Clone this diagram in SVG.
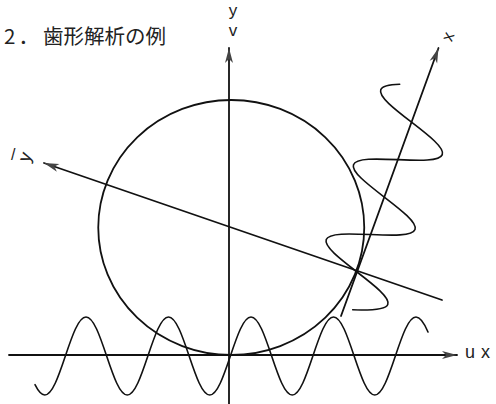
<svg xmlns="http://www.w3.org/2000/svg" width="496" height="404" viewBox="0 0 496 404">
<style>
.ln{fill:none;stroke:#111;stroke-width:1.8;stroke-linecap:round;stroke-linejoin:round}
.wv{fill:none;stroke:#111;stroke-width:1.6;stroke-linecap:round}
.lb{font-family:"Liberation Sans",Arial,sans-serif;font-size:17px;fill:#222}
.tt{font-family:"Noto Sans CJK JP","Noto Sans",sans-serif;font-size:20.5px;fill:#222}
</style>
<defs>
<marker id="ah" markerUnits="userSpaceOnUse" markerWidth="16" markerHeight="8" refX="15" refY="4" orient="auto" overflow="visible">
<path d="M0,0 L15,4 L0,8 L4,4 Z" fill="#444"/>
</marker>
</defs>
<rect width="496" height="404" fill="#fff"/>
<g id="title">
<text class="tt" x="4" y="44">2<tspan dx="3">．</tspan><tspan dx="4">歯形解析の例</tspan></text>
</g>
<g id="circle">
<ellipse class="ln" cx="231.25" cy="227.5" rx="133" ry="127.5"/>
</g>
<g id="wave-u">
<path class="wv" transform="translate(229,356)" d="M -194 28.7 C -190.75 35.2 -187.5 39 -184.25 39
c 7.47 0 13.9 -19.02 20.625 -39 c 6.73 -19.98 13.16 -39 20.625 -39 c 7.47 0 13.9 19.02 20.625 39 c 6.73 19.98 13.16 39 20.625 39
c 7.47 0 13.9 -19.02 20.625 -39 c 6.73 -19.98 13.16 -39 20.625 -39 c 7.47 0 13.9 19.02 20.625 39 c 6.73 19.98 13.16 39 20.625 39
c 7.47 0 13.9 -19.02 20.625 -39 c 6.73 -19.98 13.16 -39 20.625 -39 c 7.47 0 13.9 19.02 20.625 39 c 6.73 19.98 13.16 39 20.625 39
c 7.47 0 13.9 -19.02 20.625 -39 c 6.73 -19.98 13.16 -39 20.625 -39 c 7.47 0 13.9 19.02 20.625 39 c 6.73 19.98 13.16 39 20.625 39
c 7.47 0 13.9 -19.02 20.625 -39 c 6.73 -19.98 13.16 -39 20.625 -39 c 4 0 8 5.6 12 15"/>
</g>
<g id="wave-rot">
<path class="wv" transform="translate(357,272) rotate(-70)" d="M -37 8.9 C -31.31 26.4 -25.62 40 -19.925 40
c 7.21 0 13.43 -19.51 19.925 -40 c 6.5 -20.49 12.71 -40 19.925 -40 c 7.21 0 13.43 19.51 19.925 40 c 6.5 20.49 12.71 40 19.925 40
c 7.21 0 13.43 -19.51 19.925 -40 c 6.5 -20.49 12.71 -40 19.925 -40 c 7.21 0 13.43 19.51 19.925 40 c 6.5 20.49 12.71 40 19.925 40
c 7.21 0 13.43 -19.51 19.925 -40 c 6.5 -20.49 12.71 -40 19.925 -40 c 3.9 0 7.8 6.1 11.7 15.9"/>
</g>
<g id="axes">
<path class="ln" d="M9,355 H457" marker-end="url(#ah)"/>
<path class="ln" d="M229,404 V48" marker-end="url(#ah)"/>
<path class="ln" d="M442,300 L44,163" marker-end="url(#ah)"/>
<path class="ln" d="M341,316 L438.5,48" marker-end="url(#ah)"/>
</g>
<g id="labels">
<text class="lb" x="233" y="15.5" text-anchor="middle">y</text>
<text class="lb" x="233" y="35.5" text-anchor="middle">v</text>
<text class="lb" y="358" style="font-size:18px"><tspan x="465">u</tspan><tspan x="481">x</tspan></text>
<text class="lb" transform="translate(449,37) rotate(-70)" y="4.5" text-anchor="middle">x</text>
<text class="lb" x="11" y="160" style="font-size:16px">/</text>
<text class="lb" transform="translate(28,158) rotate(-70)" y="2.8" text-anchor="middle" style="font-size:18px">y</text>
</g>
</svg>
